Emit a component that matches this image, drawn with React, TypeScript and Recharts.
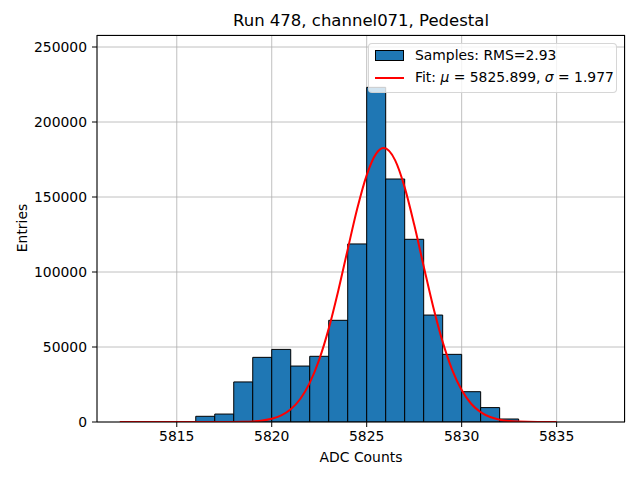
import {
  ComposedChart,
  Bar,
  Line,
  XAxis,
  YAxis,
  CartesianGrid,
  Legend,
} from "recharts";

// histogram bins (bin centres, width 1 ADC count)
const binCenters = [
  5812.5, 5813.5, 5814.5, 5815.5, 5816.5, 5817.5, 5818.5, 5819.5, 5820.5,
  5821.5, 5822.5, 5823.5, 5824.5, 5825.5, 5826.5, 5827.5, 5828.5, 5829.5,
  5830.5, 5831.5, 5832.5, 5833.5, 5834.5,
];
const binCounts = [
  0, 0, 0, 0, 3800, 5300, 26700, 43100, 48400, 37300, 43800, 67800, 118700,
  223100, 162000, 121800, 71300, 45100, 20200, 9600, 2000, 200, 0,
];

// fitted curve
const fitX = [
  5812, 5813, 5814, 5815, 5816, 5817, 5818, 5818.5, 5819, 5819.5, 5820,
  5820.5, 5821, 5821.5, 5822, 5822.5, 5823, 5823.5, 5824, 5824.5, 5825,
  5825.5, 5825.9, 5826.5, 5827, 5827.5, 5828, 5828.5, 5829, 5829.5, 5830,
  5830.5, 5831, 5831.5, 5832, 5832.5, 5833, 5834, 5835,
];
const fitY = [
  0, 0, 0, 0, 0, 4, 62, 170, 414, 968, 2126, 4380, 8470, 15340, 26090, 41620,
  62250, 87400, 115050, 142100, 164600, 178900, 182600, 174400, 156400,
  131600, 103900, 76900, 53400, 34790, 21260, 12180, 6550, 3300, 1565, 694,
  289, 35, 3,
];

const xTicks = [5815, 5820, 5825, 5830, 5835];
const yTicks = [0, 50000, 100000, 150000, 200000, 250000];

const histData = binCenters.map((center, i) => ({ center, count: binCounts[i] }));
const fitData = fitX.map((x, i) => ({ x, fit: fitY[i] }));

const FONT = "'DejaVu Sans', sans-serif";
const X_DOMAIN = [5810.8, 5838.6];
const Y_DOMAIN = [0, 258000];

const LegendBox = () => (
  <div
    style={{
      width: 249,
      height: 50,
      boxSizing: "border-box",
      border: "1px solid rgba(204,204,204,0.8)",
      borderRadius: 4,
      background: "rgba(255,255,255,0.8)",
      fontFamily: FONT,
      fontSize: 13.9,
      color: "#000",
      position: "relative",
    }}
  >
    <div style={{ position: "absolute", left: 6, top: 6, width: 27, height: 9, background: "#1f77b4", border: "1px solid #000" }} />
    <div style={{ position: "absolute", left: 46, top: 3, whiteSpace: "nowrap" }}>Samples: RMS=2.93</div>
    <div style={{ position: "absolute", left: 6, top: 33, width: 29, height: 2, background: "red" }} />
    <div style={{ position: "absolute", left: 46, top: 25, whiteSpace: "nowrap" }}>
      Fit: <i>μ</i> = 5825.899, <i>σ</i> = 1.977
    </div>
  </div>
);

export default function App() {
  return (
    <div style={{ position: "absolute", left: 0, top: 0, width: 640, height: 480, background: "#fff", fontFamily: FONT }}>
      <div style={{ position: "absolute", left: 97, width: 528, top: 11, textAlign: "center", fontSize: 16.5 }}>
        Run 478, channel071, Pedestal
      </div>
      <div style={{ position: "absolute", left: 97, width: 528, top: 449, textAlign: "center", fontSize: 13.9 }}>
        ADC Counts
      </div>
      <div
        style={{
          position: "absolute",
          left: 22,
          top: 228,
          fontSize: 13.9,
          transform: "translate(-50%, -50%) rotate(-90deg)",
          whiteSpace: "nowrap",
        }}
      >
        Entries
      </div>
      <ComposedChart
        width={640}
        height={480}
        data={histData}
        margin={{ top: 35, right: 15, left: 0, bottom: 0 }}
        barCategoryGap={0}
        barGap={0}
      >
        <CartesianGrid xAxisId="hist" yAxisId="left" stroke="#b0b0b0" strokeWidth={0.8} />
        {/* top and right spines */}
        <CartesianGrid
          xAxisId="hist"
          yAxisId="left"
          stroke="#000"
          strokeWidth={1}
          horizontalCoordinatesGenerator={({ offset }: any) => [offset.top + 0.5]}
          verticalCoordinatesGenerator={({ offset }: any) => [offset.left + offset.width - 0.5]}
        />
        <XAxis
          xAxisId="hist"
          dataKey="center"
          type="number"
          domain={X_DOMAIN}
          ticks={xTicks}
          allowDataOverflow
          height={58}
          tickSize={5}
          tickMargin={4}
          stroke="#000"
          tick={{ fill: "#000", fontSize: 13.9, fontFamily: FONT }}
        />
        <XAxis
          xAxisId="fit"
          dataKey="x"
          type="number"
          domain={X_DOMAIN}
          allowDataOverflow
          height={0}
          hide
        />
        <YAxis
          yAxisId="left"
          domain={Y_DOMAIN}
          ticks={yTicks}
          allowDataOverflow
          width={97}
          tickSize={5}
          tickMargin={5}
          stroke="#000"
          tick={{ fill: "#000", fontSize: 13.9, fontFamily: FONT }}
        />
        <Bar
          xAxisId="hist"
          yAxisId="left"
          dataKey="count"
          name="Samples: RMS=2.93"
          fill="#1f77b4"
          stroke="#000"
          strokeWidth={1}
          isAnimationActive={false}
        />
        <Line
          xAxisId="fit"
          yAxisId="left"
          data={fitData}
          dataKey="fit"
          type="monotone"
          stroke="red"
          strokeWidth={2}
          dot={false}
          activeDot={false}
          isAnimationActive={false}
        />
        <Legend
          layout="horizontal"
          verticalAlign="middle"
          align="center"
          content={() => <LegendBox />}
          wrapperStyle={{ top: 43, left: 368, width: 249 }}
        />
      </ComposedChart>
    </div>
  );
}
